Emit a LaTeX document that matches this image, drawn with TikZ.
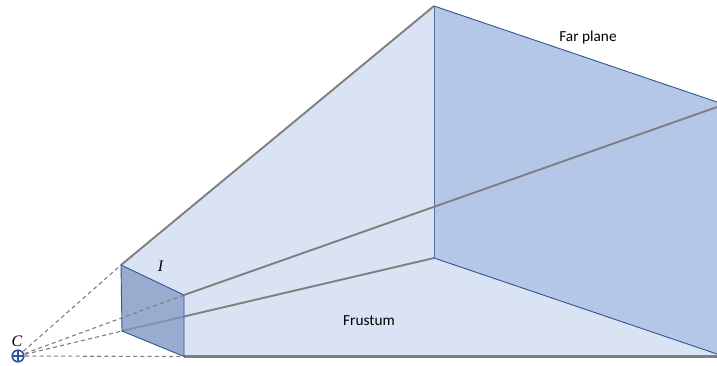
\documentclass[tikz,border=0pt]{standalone}
\usepackage{fontspec}
\setmainfont{Carlito}
\newfontfamily\mathlike{Liberation Serif}
\definecolor{lightface}{HTML}{DAE3F3}
\definecolor{farface}{HTML}{B4C7E7}
\definecolor{nearface}{HTML}{7F97C4}
\definecolor{edgeblue}{HTML}{2F5597}
\definecolor{raygray}{HTML}{7F7F7F}
\tikzset{
  ray/.style={draw=raygray,line width=1.9pt},
  baseray/.style={draw=raygray,line width=2.4pt},
  sight/.style={draw=raygray,line width=1.1pt,dash pattern=on 4pt off 3.2pt},
  rim/.style={draw=edgeblue,line width=0.9pt},
  softrim/.style={draw=edgeblue!75!farface,line width=0.9pt},
  lbl/.style={inner sep=0pt,font=\fontsize{15.3}{18}\selectfont},
  symb/.style={inner sep=0pt,font=\fontsize{16}{18}\mathlike\itshape},
}
\begin{document}
\begin{tikzpicture}[x=1pt,y=-1pt]
\useasboundingbox (0,0) rectangle (717,365);
\coordinate (NTL) at (121,265);
\coordinate (NTR) at (184,295);
\coordinate (NBL) at (122,331);
\coordinate (NBR) at (184,356.5);
\coordinate (FT) at (434,6);
\coordinate (FB) at (434,258);
\coordinate (FTR) at (717,102);
\coordinate (GTR) at (717,107);
\coordinate (FBR) at (717,354);
\coordinate (FRB) at (717,356.5);
\coordinate (C) at (18,356);
% frustum faces
\fill[lightface] (NTL) -- (FT) -- (FB) -- (FBR) -- (FRB) -- (NBR) -- (NTR) -- cycle;
\fill[farface] (FT) -- (FTR) -- (FBR) -- (FB) -- cycle;
% frustum edges
\draw[softrim] (FT) -- (FB);
\draw[rim] (FT) -- (FTR);
\draw[rim] (FB) -- (FBR);
\draw[ray] (NTL) -- (FT);
\draw[ray] (NTR) -- (GTR);
\draw[ray] (NBL) -- (FB);
\draw[baseray] (NBR) -- (FRB);
% image plane
\fill[nearface,fill opacity=0.8] (NTL) -- (NTR) -- (NBR) -- (NBL) -- cycle;
\draw[rim,line join=round] (NTL) -- (NTR) -- (NBR) -- (NBL) -- cycle;
% sight lines
\draw[sight] (C) -- (NTL);
\draw[sight] (C) -- (NTR);
\draw[sight] (C) -- (NBL);
\draw[sight] (C) -- (NBR);
% camera centre
\draw[edgeblue,line width=1.6pt,fill=white] (C) circle (5.8pt);
\draw[edgeblue,line width=1.6pt] (12.2,356) -- (23.8,356) (18,350.2) -- (18,361.8);
% labels
\node[lbl] (far) at (588,37) {Far plane};
\node[lbl] (fru) at (369,320.5) {Frustum};
\node[symb] (imgI) at (160.5,266.5) {I};
\node[symb] (camC) at (17,341) {C};
\end{tikzpicture}
\end{document}
